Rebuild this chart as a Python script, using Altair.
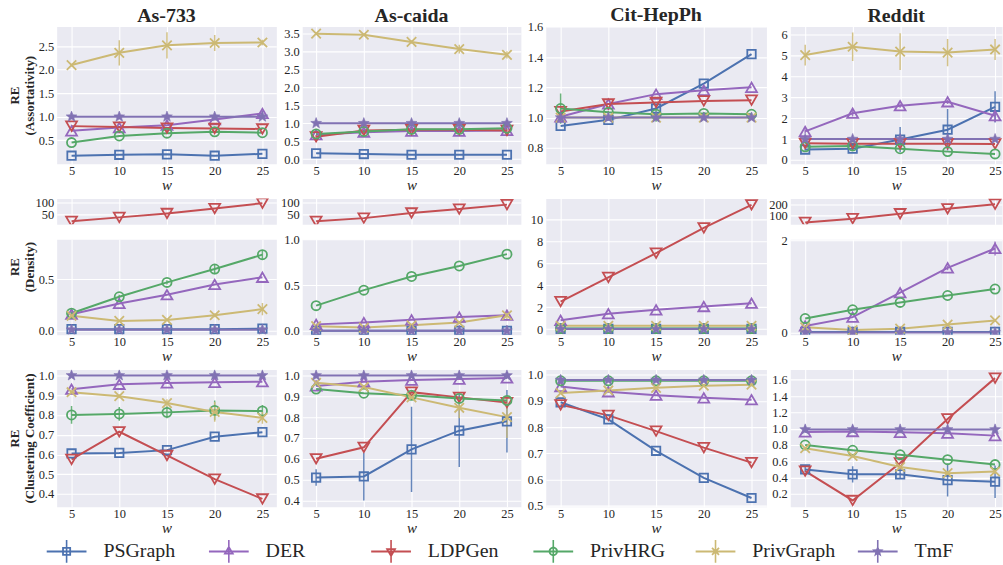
import math
import altair as alt
import pandas as pd

FONT = "Liberation Serif"
TXT = "#262626"
BG = "#EAEAF2"

W = [5, 10, 15, 20, 25]
METHODS = ["PSGraph", "DER", "LDPGen", "PrivHRG", "PrivGraph", "TmF"]
COLORS = ["#4C72B0", "#9467BD", "#C44E52", "#55A868", "#CCB974", "#8172B3"]
DATASETS = ["As-733", "As-caida", "Cit-HepPh", "Reddit"]

# ---------------- RE (Assortativity) ----------------
A_AS733 = {"PSGraph": [0.17, 0.19, 0.20, 0.17, 0.21], "DER": [0.70, 0.77, 0.82, 0.94, 1.07],
           "LDPGen": [0.80, 0.78, 0.76, 0.75, 0.74], "PrivHRG": [0.45, 0.59, 0.65, 0.68, 0.66],
           "PrivGraph": [2.10, 2.36, 2.52, 2.57, 2.58], "TmF": [1.0, 1.0, 1.0, 1.0, 1.0]}
EA_AS733 = {"PrivGraph": [0.03, 0.27, 0.28, 0.17, 0.06], "DER": [0.0, 0.0, 0.0, 0.0, 0.05]}

A_ASCAIDA = {"PSGraph": [0.16, 0.14, 0.12, 0.12, 0.12], "DER": [0.68, 0.75, 0.78, 0.78, 0.80],
             "LDPGen": [0.62, 0.80, 0.82, 0.82, 0.80], "PrivHRG": [0.70, 0.77, 0.83, 0.83, 0.86],
             "PrivGraph": [3.50, 3.47, 3.27, 3.07, 2.91], "TmF": [1.0, 1.0, 1.0, 1.0, 1.0]}
EA_ASCAIDA = {"PrivGraph": [0.02, 0.03, 0.05, 0.12, 0.10], "LDPGen": [0.05, 0.0, 0.0, 0.0, 0.05]}

A_CIT = {"PSGraph": [0.945, 0.985, 1.06, 1.225, 1.42], "DER": [1.005, 1.09, 1.155, 1.18, 1.20],
         "LDPGen": [1.04, 1.09, 1.10, 1.11, 1.115], "PrivHRG": [1.06, 1.035, 1.022, 1.027, 1.022],
         "PrivGraph": [1.0, 1.0, 1.0, 1.0, 1.0], "TmF": [1.0, 1.0, 1.0, 1.0, 1.0]}
EA_CIT = {"PrivHRG": [0.10, 0.01, 0.05, 0.01, 0.01]}

A_REDDIT = {"PSGraph": [0.50, 0.54, 0.98, 1.45, 2.55], "DER": [1.37, 2.24, 2.60, 2.79, 2.12],
            "LDPGen": [0.80, 0.78, 0.78, 0.78, 0.77], "PrivHRG": [0.63, 0.67, 0.54, 0.40, 0.29],
            "PrivGraph": [5.03, 5.43, 5.20, 5.15, 5.30], "TmF": [1.0, 1.0, 1.0, 1.0, 1.0]}
EA_REDDIT = {"PrivGraph": [0.50, 0.68, 0.88, 0.65, 0.50], "PSGraph": [0.05, 0.10, 0.60, 1.00, 0.75],
             "DER": [0.10, 0.15, 0.10, 0.10, 0.30]}

# ---------------- RE (Density) ----------------
D_AS733 = {"PSGraph": [0.015, 0.015, 0.015, 0.015, 0.02], "DER": [0.16, 0.265, 0.35, 0.45, 0.52],
           "LDPGen": [23, 39, 55, 75, 97], "PrivHRG": [0.17, 0.33, 0.47, 0.60, 0.74],
           "PrivGraph": [0.145, 0.095, 0.105, 0.15, 0.21], "TmF": [0.01, 0.01, 0.01, 0.01, 0.01]}
ED_AS733 = {"PrivHRG": [0.02, 0.02, 0.02, 0.05, 0.04], "PrivGraph": [0.01, 0.01, 0.01, 0.02, 0.06]}

D_ASCAIDA = {"PSGraph": [0.0, 0.0, 0.0, 0.0, 0.0], "DER": [0.07, 0.09, 0.12, 0.15, 0.17],
             "LDPGen": [23, 36, 57, 73, 91], "PrivHRG": [0.275, 0.445, 0.595, 0.71, 0.84],
             "PrivGraph": [0.05, 0.035, 0.06, 0.09, 0.17], "TmF": [0.0, 0.0, 0.0, 0.0, 0.0]}
ED_ASCAIDA = {"PrivGraph": [0.0, 0.0, 0.0, 0.01, 0.06]}

D_CIT = {"PSGraph": [0.02, 0.02, 0.02, 0.02, 0.02], "DER": [0.8, 1.4, 1.75, 2.05, 2.35],
         "LDPGen": [2.5, 4.7, 6.9, 9.2, 11.3], "PrivHRG": [0.05, 0.05, 0.05, 0.05, 0.05],
         "PrivGraph": [0.3, 0.3, 0.3, 0.3, 0.3], "TmF": [0.0, 0.0, 0.0, 0.0, 0.0]}
ED_CIT = {}

D_REDDIT = {"PSGraph": [0.01, 0.01, 0.01, 0.01, 0.01], "DER": [0.14, 0.33, 0.86, 1.40, 1.82],
            "LDPGen": [42, 74, 117, 160, 200], "PrivHRG": [0.30, 0.49, 0.65, 0.80, 0.94],
            "PrivGraph": [0.11, 0.05, 0.08, 0.17, 0.26], "TmF": [0.0, 0.0, 0.0, 0.0, 0.0]}
ED_REDDIT = {"DER": [0.0, 0.0, 0.0, 0.05, 0.15]}

# ---------------- RE (Clustering Coefficient) ----------------
C_AS733 = {"PSGraph": [0.605, 0.608, 0.622, 0.69, 0.713], "DER": [0.93, 0.955, 0.962, 0.965, 0.968],
           "LDPGen": [0.575, 0.715, 0.595, 0.475, 0.375], "PrivHRG": [0.80, 0.805, 0.813, 0.823, 0.82],
           "PrivGraph": [0.915, 0.895, 0.86, 0.815, 0.785], "TmF": [1.0, 1.0, 1.0, 1.0, 1.0]}
EC_AS733 = {"PrivHRG": [0.045, 0.035, 0.03, 0.05, 0.03], "PrivGraph": [0.01, 0.01, 0.02, 0.05, 0.03]}

C_ASCAIDA = {"PSGraph": [0.51, 0.515, 0.645, 0.735, 0.78], "DER": [0.95, 0.97, 0.978, 0.983, 0.988],
             "LDPGen": [0.60, 0.655, 0.92, 0.895, 0.87], "PrivHRG": [0.935, 0.915, 0.905, 0.89, 0.88],
             "PrivGraph": [0.965, 0.945, 0.895, 0.845, 0.80], "TmF": [1.0, 1.0, 1.0, 1.0, 1.0]}
EC_ASCAIDA = {"PSGraph": [0.04, 0.115, 0.205, 0.175, 0.15], "PrivGraph": [0.01, 0.01, 0.01, 0.05, 0.10]}

C_CIT = {"PSGraph": [0.895, 0.83, 0.71, 0.607, 0.53], "DER": [0.955, 0.935, 0.922, 0.912, 0.905],
         "LDPGen": [0.885, 0.845, 0.785, 0.722, 0.665], "PrivHRG": [0.977, 0.977, 0.977, 0.977, 0.977],
         "PrivGraph": [0.93, 0.94, 0.95, 0.958, 0.962], "TmF": [0.98, 0.98, 0.98, 0.98, 0.98]}
EC_CIT = {}

C_REDDIT = {"PSGraph": [0.50, 0.44, 0.44, 0.37, 0.35], "DER": [0.96, 0.965, 0.955, 0.945, 0.915],
            "LDPGen": [0.48, 0.12, 0.58, 1.12, 1.62], "PrivHRG": [0.80, 0.735, 0.68, 0.62, 0.56],
            "PrivGraph": [0.76, 0.665, 0.53, 0.455, 0.475], "TmF": [0.99, 0.99, 0.99, 0.99, 0.99]}
EC_REDDIT = {"PSGraph": [0.03, 0.10, 0.05, 0.20, 0.20], "PrivGraph": [0.0, 0.02, 0.02, 0.03, 0.03]}

# ---------------- axes ----------------
A_DOM = [[0.0, 2.92], [-0.13, 3.70], [0.695, 1.602], [-0.18, 6.4]]
A_TICKS = [[0.5, 1.0, 1.5, 2.0, 2.5], [0.0, 0.5, 1.0, 1.5, 2.0, 2.5, 3.0, 3.5],
           [0.8, 1.0, 1.2, 1.4, 1.6], [0, 1, 2, 3, 4, 5, 6]]
A_FMT = [".1f", ".1f", ".1f", "d"]

DT_DOM = [[10.6, 116], [10.6, 116], None, [25, 249]]
DT_TICKS = [[50, 100], [50, 100], None, [100, 200]]
DB_DOM = [[-0.039, 0.89], [-0.043, 1.003], [-0.51, 11.87], [-0.05, 2.02]]
DB_TICKS = [[0.0, 0.5], [0.0, 0.5, 1.0], [0, 2, 4, 6, 8, 10], [0, 1, 2]]
DB_FMT = [".1f", ".1f", "d", "d"]

C_DOM = [[0.336, 1.03], [0.37, 1.029], [0.497, 1.02], [0.044, 1.726]]
C_TICKS = [[0.4, 0.5, 0.6, 0.7, 0.8, 0.9, 1.0], [0.4, 0.5, 0.6, 0.7, 0.8, 0.9, 1.0],
           [0.5, 0.6, 0.7, 0.8, 0.9, 1.0], [0.2, 0.4, 0.6, 0.8, 1.0, 1.2, 1.4, 1.6]]

COLW = [221, 220, 222, 213]
XDOM = [[3.44, 26.46], [3.54, 26.46], [3.44, 26.56], [3.43, 25.73]]
YEXT = [20, 24, 23, 22]
TITLE_DY = [19, 19, 24, 19]

A_VALS = [(A_AS733, EA_AS733), (A_ASCAIDA, EA_ASCAIDA), (A_CIT, EA_CIT), (A_REDDIT, EA_REDDIT)]
D_VALS = [(D_AS733, ED_AS733), (D_ASCAIDA, ED_ASCAIDA), (D_CIT, ED_CIT), (D_REDDIT, ED_REDDIT)]
C_VALS = [(C_AS733, EC_AS733), (C_ASCAIDA, EC_ASCAIDA), (C_CIT, EC_CIT), (C_REDDIT, EC_REDDIT)]


# ---------------- marker shapes ----------------
def star_path(ro, ri, cx=0.0, cy=0.0):
    pts = []
    for k in range(10):
        r = ro if k % 2 == 0 else ri
        a = -math.pi / 2 + k * math.pi / 5
        pts.append((cx + r * math.cos(a), cy + r * math.sin(a)))
    return pts


X_PATH = "M-1,-1L1,1M-1,1L1,-1"
STAR_PATH = "M" + "L".join(f"{x:.3f},{y:.3f}" for x, y in star_path(1.0, 0.42)) + "Z"

MARK = {
    "PSGraph": dict(shape="square", size=72, filled=False),
    "DER": dict(shape="triangle-up", size=120, filled=False),
    "LDPGen": dict(shape="triangle-down", size=120, filled=False),
    "PrivHRG": dict(shape="circle", size=85, filled=False),
    "PrivGraph": dict(shape=X_PATH, size=90, filled=False),
    "TmF": dict(shape=STAR_PATH, size=130, filled=True),
}


def poly(pts, solid=True):
    n = len(pts)
    a = sum(pts[i][0] * pts[(i + 1) % n][1] - pts[(i + 1) % n][0] * pts[i][1] for i in range(n))
    if (a > 0) != solid:
        pts = pts[::-1]
    return "M" + "L".join(f"{x:.3f},{y:.3f}" for x, y in pts) + "Z"


def rect(x0, y0, x1, y1):
    return poly([(x0, y0), (x1, y0), (x1, y1), (x0, y1)])


def scaled(pts, f, cx, cy):
    return [(cx + (x - cx) * f, cy + (y - cy) * f) for x, y in pts]


def legend_path(kind):
    cx = 1.0
    base = rect(-1.0, -0.1, 3.0, 0.1) + rect(cx - 0.08, -1.15, cx + 0.08, 1.15)
    if kind == "square":
        o = [(cx - 0.45, -0.45), (cx + 0.45, -0.45), (cx + 0.45, 0.45), (cx - 0.45, 0.45)]
        return base + poly(o) + poly(scaled(o, 0.27 / 0.45, cx, 0), False)
    if kind in ("tri-up", "tri-down"):
        s = -1 if kind == "tri-up" else 1
        o = [(cx, 0.63 * s), (cx + 0.55, -0.32 * s), (cx - 0.55, -0.32 * s)]
        return base + poly(o) + poly(scaled(o, 0.45, cx, 0), False)
    if kind == "circle":
        o = [(cx + 0.47 * math.cos(2 * math.pi * k / 28), 0.47 * math.sin(2 * math.pi * k / 28)) for k in range(28)]
        return base + poly(o) + poly(scaled(o, 0.29 / 0.47, cx, 0), False)
    if kind == "x":
        out = base
        for sgn in (1, -1):
            L, t = 0.5, 0.09
            pts = [(-L, -t), (L, -t), (L, t), (-L, t)]
            c, s_ = math.cos(sgn * math.pi / 4), math.sin(sgn * math.pi / 4)
            out += poly([(cx + x * c - y * s_, x * s_ + y * c) for x, y in pts])
        return out
    return base + poly(star_path(0.62, 0.26, cx, 0.0))


LEGEND_SHAPES = [legend_path(k) for k in ["square", "tri-up", "tri-down", "circle", "x", "star"]]


# ---------------- panel builder ----------------
def make_df(values, errors, keep):
    rows = []
    for m in METHODS:
        if m not in keep:
            continue
        errs = errors.get(m, [0.0] * len(W))
        for w, v, e in zip(W, values[m], errs):
            rows.append({"w": w, "method": m, "value": v, "lo": v - e, "hi": v + e, "err": e})
    return pd.DataFrame(rows)


def panel(ci, values, errors, keep, ydom, yticks, yfmt, height, show_x=True,
          title=None, ytitle=None, ytitle_y=None):
    df = make_df(values, errors, keep)
    if show_x:
        xaxis = alt.Axis(values=W, format="d", title="w", titleFont=FONT, titleFontStyle="italic",
                         titleFontWeight="normal", titleFontSize=15, titlePadding=0, labelPadding=1,
                         labelFont=FONT, labelFontSize=12.5, labelColor=TXT)
    else:
        xaxis = alt.Axis(values=W, labels=False, title=None)
    ykw = dict(values=yticks, format=yfmt, minExtent=YEXT[ci], titlePadding=0,
               labelFont=FONT, labelFontSize=12.5, labelColor=TXT)
    if ytitle is not None:
        ykw.update(title=ytitle, titleFont=FONT, titleFontWeight="bold", titleFontSize=13,
                   titleLineHeight=15, titleColor=TXT)
    else:
        ykw["title"] = None
    if ytitle_y is not None:
        ykw["titleY"] = ytitle_y
    yaxis = alt.Axis(**ykw)
    xs = alt.Scale(domain=XDOM[ci], nice=False, zero=False)
    ys = alt.Scale(domain=ydom, nice=False, zero=False)
    X = alt.X("w:Q", scale=xs, axis=xaxis)
    Y = alt.Y("value:Q", scale=ys, axis=yaxis)
    stroke = alt.Stroke("method:N", scale=alt.Scale(domain=METHODS, range=COLORS), legend=None)
    base = alt.Chart(df)
    layers = [
        base.transform_filter("datum.err > 0").mark_rule(strokeWidth=1.5, opacity=0.85, clip=True).encode(
            x=X, y=alt.Y("lo:Q", scale=ys, axis=yaxis), y2="hi:Q", stroke=stroke),
        base.mark_line(strokeWidth=2, clip=True).encode(x=X, y=Y, stroke=stroke),
    ]
    for m, c in zip(METHODS, COLORS):
        if m not in keep:
            continue
        spec = MARK[m]
        if spec["filled"]:
            mk = base.transform_filter(alt.datum.method == m).mark_point(
                shape=spec["shape"], size=spec["size"], filled=True, fill=c, stroke=c,
                strokeWidth=0.6, opacity=1, clip=True)
        else:
            mk = base.transform_filter(alt.datum.method == m).mark_point(
                shape=spec["shape"], size=spec["size"], filled=False, fill="transparent", stroke=c,
                strokeWidth=1.8, opacity=1, clip=True)
        layers.append(mk.encode(x=X, y=Y))
    props = dict(width=COLW[ci], height=height)
    if title is not None:
        props["title"] = alt.TitleParams(title, font=FONT, fontSize=20, fontWeight="bold", color=TXT,
                                         offset=4, baseline="alphabetic", anchor="middle", dy=TITLE_DY[ci])
    return alt.layer(*layers).properties(**props)


def spacer(ci):
    return alt.Chart(pd.DataFrame({"s": [0]})).mark_point(opacity=0).encode(
        x=alt.X("s:Q", axis=None), y=alt.Y("s:Q", axis=None)
    ).properties(width=COLW[ci], height=5,
                 view=alt.ViewBackground(fill="transparent", stroke="transparent"))


ALL = METHODS
OTHERS = [m for m in METHODS if m != "LDPGen"]

cols = []
for ci in range(4):
    first = ci == 0
    av, ae = A_VALS[ci]
    dv, de = D_VALS[ci]
    cv, ce = C_VALS[ci]
    p_a = panel(ci, av, ae, ALL, A_DOM[ci], A_TICKS[ci], A_FMT[ci], 138, title=DATASETS[ci],
                ytitle=["RE", "(Assortativity)"] if first else None)
    p_c = panel(ci, cv, ce, ALL, C_DOM[ci], C_TICKS[ci], ".1f", 138,
                ytitle=["RE", "(Clustering Coefficient)"] if first else None)
    if ci == 2:
        p_d = panel(ci, dv, de, ALL, DB_DOM[ci], DB_TICKS[ci], DB_FMT[ci], 137)
        col = alt.vconcat(p_a, p_d, p_c, spacing=35, bounds="flush")
    else:
        p_dt = panel(ci, dv, de, ["LDPGen"], DT_DOM[ci], DT_TICKS[ci], "d", 26, show_x=False)
        p_db = panel(ci, dv, de, OTHERS, DB_DOM[ci], DB_TICKS[ci], DB_FMT[ci], 96,
                     ytitle=["RE", "(Density)"] if first else None, ytitle_y=27.5 if first else None)
        col = alt.vconcat(p_a, spacer(ci), p_dt, p_db, spacer(ci), p_c, spacing=15, bounds="flush")
    cols.append(col)

grid = alt.hconcat(*cols, spacing=0)

# ---------------- legend row (one entry per method) ----------------
leg_df = pd.DataFrame({"method": METHODS})
LX = alt.X("method:N", scale=alt.Scale(domain=METHODS, padding=0), axis=None)
leg_sym = alt.Chart(leg_df).mark_point(filled=True, size=400, opacity=1, strokeWidth=0).encode(
    x=LX,
    color=alt.Color("method:N", scale=alt.Scale(domain=METHODS, range=COLORS), legend=None),
    shape=alt.Shape("method:N", scale=alt.Scale(domain=METHODS, range=LEGEND_SHAPES), legend=None),
)
leg_txt = alt.Chart(leg_df).mark_text(align="left", baseline="middle", dx=47, font=FONT,
                                      fontSize=20, color=TXT).encode(x=LX, text="method:N")
legend_row = alt.layer(leg_sym, leg_txt).properties(
    width=816, height=20, view=alt.ViewBackground(fill="transparent", stroke="transparent"))

chart = alt.vconcat(grid, legend_row, spacing=4).properties(
    padding={"left": 8, "top": 2, "right": 0, "bottom": 0}
).configure_view(
    fill=BG, stroke="transparent"
).configure_axis(
    labelFont=FONT, labelFontSize=12.5, labelColor=TXT, labelPadding=3, labelOverlap=False,
    labelFlush=False, ticks=False, tickSize=0, domain=False, gridColor="white", gridWidth=1.1,
    titleFont=FONT, titleColor=TXT
)

chart.save("out.html", embed_options={"renderer": "svg", "actions": False})
